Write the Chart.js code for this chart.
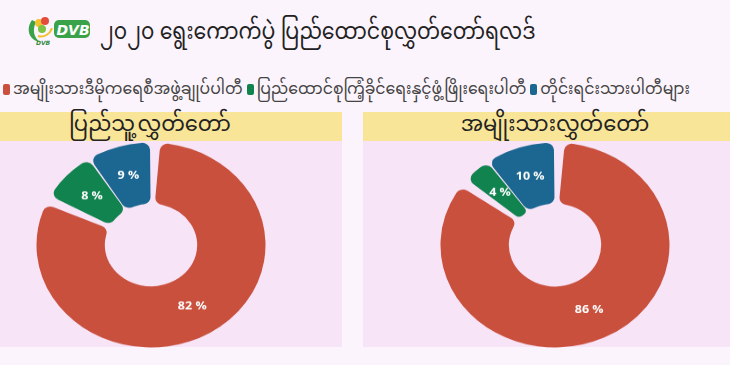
<!DOCTYPE html>
<html>
<head>
<meta charset="utf-8">
<script src="https://cdn.jsdelivr.net/npm/chart.js@4/dist/chart.umd.min.js"></script>
<style>
  body { margin: 0; width: 730px; height: 365px; background: #fcf4fc; overflow: hidden; position: relative;
         font-family: "Noto Sans Myanmar", "Padauk", "Myanmar Text", "Noto Sans", sans-serif; }
  #logo { position: absolute; left: 26px; top: 14px; }
  #title { position: absolute; left: 100px; top: 9px; font-size: 23px; color: #222; white-space: nowrap; transform: scaleX(0.89); transform-origin: left center; }
  #legend { position: absolute; left: 3px; top: 73px; font-size: 15.7px; color: #444; white-space: nowrap; }
  #legend span.item { margin-right: 4px; }
  #legend span.box { display: inline-block; width: 7px; height: 11px; border-radius: 2px; margin-right: 3px; vertical-align: -1px; }
  .panel { position: absolute; top: 112px; height: 235px; background: #f7e4f7; }
  .panel .head { position: relative; height: 29px; background: #f9e597; }
  .panel .head span { position: absolute; top: 0; transform: translateX(-50%); font-size: 21px; line-height: 29px; color: #222; white-space: nowrap; }
  .wrap { position: absolute; top: 114.5px; width: 260px; height: 260px; transform: scaleY(0.895); transform-origin: center center; }
</style>
</head>
<body>
<svg id="logo" width="66" height="32" viewBox="0 0 66 32">
  <path d="M6 6 C0 14 2 26 14 28 C8 24 6 16 10 8 Z" fill="#3aa34a"/>
  <circle cx="13" cy="9" r="4" fill="#f2c12e"/>
  <circle cx="19" cy="7" r="4" fill="#e54b3c"/>
  <circle cx="16" cy="15" r="4" fill="#7cc243"/>
  <path d="M12 22 C18 24 24 20 26 14" stroke="#f2c12e" stroke-width="2" fill="none"/>
  <text x="10" y="31" font-size="6" font-weight="bold" font-style="italic" fill="#2e8b3e" font-family="DejaVu Sans">DVB</text>
  <rect x="28" y="6" width="36" height="18" rx="5" fill="#3aa34a"/>
  <text x="30.5" y="20.5" font-size="14" font-weight="bold" font-style="italic" fill="#fff" font-family="DejaVu Sans">DVB</text>
</svg>
<div id="title">၂၀၂၀ ရွေးကောက်ပွဲ ပြည်ထောင်စုလွှတ်တော်ရလဒ်</div>
<div id="legend"></div>
<div class="panel" style="left:0; width:342px;"><div class="head"><span id="head0" style="left:150px;"></span></div></div>
<div class="panel" style="left:363px; width:367px;"><div class="head"><span id="head1" style="left:192px;"></span></div></div>
<div class="wrap" style="left:20.5px;"><canvas id="c0" width="260" height="260"></canvas></div>
<div class="wrap" style="left:425px;"><canvas id="c1" width="260" height="260"></canvas></div>
<script>
var parties = ["အမျိုးသားဒီမိုကရေစီအဖွဲ့ချုပ်ပါတီ", "ပြည်ထောင်စုကြံ့ခိုင်ရေးနှင့်ဖွံ့ဖြိုးရေးပါတီ", "တိုင်းရင်းသားပါတီများ"];
var colors = ["#c9503d", "#11834f", "#1b6791"];
var houses = ["ပြည်သူ့လွှတ်တော်", "အမျိုးသားလွှတ်တော်"];
var lowerHouse = [82, 8, 9];
var upperHouse = [86, 4, 10];

// legend
var legend = document.getElementById("legend");
parties.forEach(function (p, i) {
    legend.innerHTML += '<span class="item"><span class="box" style="background:' + colors[i] + '"></span>' + p + '</span>';
});
document.getElementById("head0").textContent = houses[0];
document.getElementById("head1").textContent = houses[1];

// percent labels in the middle of each slice
var sliceLabels = {
    id: "sliceLabels",
    afterDatasetsDraw: function (chart) {
        var ctx = chart.ctx;
        var ds = chart.data.datasets[0];
        ctx.save();
        ctx.font = "bold 12.5px 'Open Sans'";
        ctx.fillStyle = "#fff";
        ctx.textAlign = "center";
        ctx.textBaseline = "middle";
        chart.getDatasetMeta(0).data.forEach(function (arc, i) {
            var pos = arc.tooltipPosition();
            ctx.fillText(ds.data[i] + " %", pos.x, pos.y);
        });
        ctx.restore();
    }
};

function makeChart(id, values) {
    return new Chart(document.getElementById(id), {
        type: "doughnut",
        data: {
            labels: parties,
            datasets: [{
                data: values,
                backgroundColor: colors,
                borderWidth: 0,
                borderRadius: 8,
                spacing: 5
            }]
        },
        options: {
            responsive: false,
            animation: false,
            devicePixelRatio: 1,
            radius: 112,
            cutout: "39%",
            layout: { padding: 0 },
            plugins: { legend: { display: false }, tooltip: { enabled: false } }
        },
        plugins: [sliceLabels]
    });
}

makeChart("c0", lowerHouse);
makeChart("c1", upperHouse);
</script>
</body>
</html>
